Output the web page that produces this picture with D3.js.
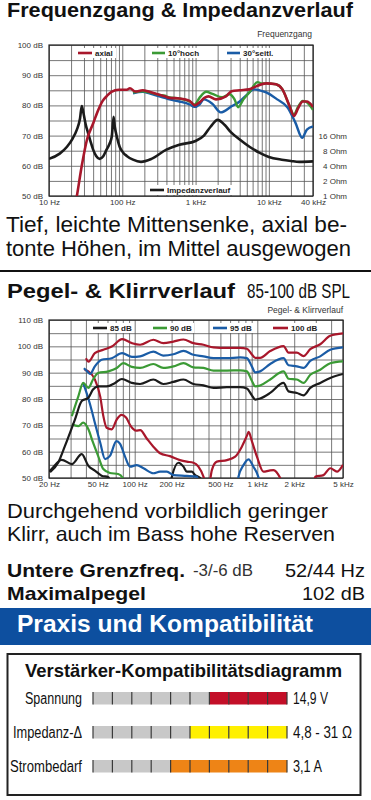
<!DOCTYPE html>
<html>
<head>
<meta charset="utf-8">
<script src="https://cdn.jsdelivr.net/npm/d3@7"></script>
<style>
body { margin: 0; background: #fff; }
svg { display: block; font-family: "Liberation Sans", Arial, sans-serif; }
.grid line { stroke: #555; stroke-width: 0.8; }
.grid .domain { display: none; }
.tick-lbl text { font-size: 8px; fill: #333; }
.tick-lbl .domain { display: none; }
</style>
</head>
<body>
<div id="chart"></div>
<script>
// ---- Frequenzgang (Hz / dB) ----
var fgAxialHz = [22, 24, 28, 33, 40, 47, 54, 61, 71, 90, 115, 127, 150, 190, 235, 320, 380, 440, 600, 830, 970, 1130, 1320, 1500, 1900, 2600, 3100, 4000, 5400, 6700, 9200, 12500, 15300, 19000, 22000, 25000, 29000, 33000, 40000];
var fgAxialDb = [45, 50, 60, 68.7, 74, 78.5, 81.5, 83, 84.5, 85.2, 85.2, 85.7, 84.6, 85, 84.5, 83.5, 83, 82.5, 82.3, 81.5, 80, 81, 82.5, 83, 82, 83, 84.7, 85, 85.3, 86.3, 87.3, 87, 85.3, 80, 76.5, 79, 81.3, 81.3, 79.5];
var fg10Hz = [140, 190, 235, 320, 380, 440, 600, 830, 970, 1130, 1400, 1700, 2300, 2900, 3400, 3800, 4500, 5400, 7000, 8000, 9200, 12500, 15300, 19000, 22000, 25000, 29000, 33000, 40000];
var fg10Db = [84.3, 84.7, 84.3, 83.5, 83.2, 82.6, 82.3, 81.3, 80.3, 82.5, 84.5, 83.8, 82.7, 83.7, 82, 79.4, 82, 84.3, 87.7, 87.3, 87.3, 87, 85.3, 80, 77, 79.5, 81.5, 81, 78.5];
var fg30Hz = [140, 190, 235, 320, 380, 440, 600, 830, 970, 1130, 1300, 1700, 2200, 3100, 4000, 5000, 6300, 7500, 9200, 13000, 18000, 23000, 28500, 33000, 40000];
var fg30Db = [84, 84.5, 84, 83, 82.5, 82, 81.3, 80.3, 79.5, 80.3, 82, 80.5, 77.7, 79.7, 81.3, 83.5, 85.3, 85, 84.3, 82, 79.3, 74.3, 69.3, 72, 73];
var impHz = [10, 14, 17.6, 21, 24, 26.5, 28, 29.5, 32, 34, 37, 40, 44, 49, 55, 61, 67, 72, 76, 79, 84, 92, 103, 115, 140, 180, 250, 400, 600, 1000, 1300, 1600, 2000, 2500, 3000, 4000, 5500, 7400, 10000, 15000, 20000, 26000, 40000];
var impOhm = [5.5, 7, 9.6, 14, 21, 35, 62, 45, 25, 18.4, 12, 8.4, 6.3, 5.5, 6.2, 8.4, 11, 15.5, 38, 24, 15.5, 9.6, 7.3, 6.3, 5.3, 4.8, 5.5, 8.4, 10.5, 12.5, 16, 24, 33, 26, 19, 13.4, 9.5, 7.3, 6, 5.3, 5, 4.8, 4.9];
var fgYTicks = [100, 90, 80, 70, 60, 50];
var fgXTicks = [10, 100, 1000, 10000, 40000];
var fgXLabels = ["10 Hz", "100 Hz", "1 kHz", "10 kHz", "40 kHz"];
var ohmTicks = [16, 8, 4, 2, 1];

// ---- Pegel- & Klirrverlauf (Grundton + Klirr) ----
var k85Hz = [20.4, 23.8, 27, 32.6, 37, 41.9, 45.7, 50.3, 59, 69.2, 78.6, 94.6, 110.7, 142, 171, 207, 250, 301, 364, 439, 565, 724, 822, 900, 962, 1054, 1274, 1637, 1797, 2103, 2382, 2705, 3260, 3936, 5000];
var k85Db = [52.2, 55.9, 62.2, 72.3, 79.2, 80.5, 83.6, 84.8, 84.8, 86.1, 87.6, 86.1, 85.7, 87.4, 85.7, 86.5, 87.4, 85.7, 85.2, 84.2, 84.5, 84.5, 84.0, 81.5, 79.8, 80.2, 82.3, 86.1, 82.9, 82.3, 81.4, 84.2, 86.1, 88.0, 89.5];
var k90Hz = [30.7, 34.7, 38, 41.9, 45.7, 50.3, 61, 71.5, 80.8, 94.6, 110.7, 142, 171, 207, 250, 301, 364, 439, 565, 724, 822, 900, 962, 1054, 1274, 1637, 1797, 2103, 2382, 2705, 3260, 3936, 5000];
var k90Db = [73.5, 81, 86.1, 84.2, 87.4, 89.9, 90.5, 91.8, 93.6, 92.2, 91.8, 93.3, 91.8, 92.4, 93.6, 92.0, 91.8, 90.8, 90.8, 90.9, 90.5, 87, 84.8, 85.1, 87.4, 90.5, 87.7, 87.4, 86.1, 89.2, 91.1, 93.6, 94.3];
var k95Hz = [38.5, 41, 43.3, 47.3, 53.7, 65, 79, 95, 110.7, 142, 171, 207, 250, 301, 364, 439, 565, 724, 822, 900, 962, 1054, 1274, 1637, 1797, 2103, 2382, 2705, 3260, 3936, 5000];
var k95Db = [91.7, 90.5, 89.5, 92.4, 94.9, 95.5, 97.4, 96, 96.2, 98.0, 96.5, 97.0, 98.3, 96.8, 96.2, 95.5, 95.5, 95.8, 95.5, 92.5, 90.1, 90.5, 93.3, 95.5, 92.8, 92.4, 91.8, 94.5, 96.2, 98.7, 99.6];
var k100Hz = [40, 42, 47.3, 55.5, 65, 79, 95, 110.7, 142, 171, 207, 250, 301, 364, 439, 565, 724, 822, 900, 962, 1054, 1274, 1637, 1797, 2103, 2382, 2705, 3260, 3936, 5000];
var k100Db = [95.5, 94.2, 97.4, 98.7, 99.9, 102.7, 101.2, 100.6, 102.5, 101.2, 101.8, 102.6, 101.2, 100.6, 99.6, 99.4, 99.4, 99.1, 97, 95.6, 95.6, 98.2, 100.1, 97.6, 97.6, 96.3, 98.9, 100.8, 104, 104.9];
var d85Hz = [20, 21, 25.4, 30.7, 37, 41.9, 47.3, 53.7, 61, 68, 190, 201, 227, 250, 266, 292, 311, 342, 360];
var d85Db = [52.5, 53.4, 56.9, 55.3, 59.1, 54.6, 52.8, 50.9, 50.3, 45, 45, 50.5, 55.8, 54.3, 52.4, 52.4, 51.1, 50, 45];
var d90Hz = [30.7, 34.7, 38, 41.9, 45.7, 50.3, 55.5, 62.8, 73.4, 80, 85];
var d90Db = [70.4, 69.7, 71, 68.5, 63.5, 58.4, 53.4, 51.9, 51.5, 50, 45];
var d95Hz = [38, 42, 45, 47.3, 52.3, 57.3, 62.8, 71, 76, 83.4, 91.6, 104, 118, 142, 161, 183, 207, 266, 321, 350, 690, 702, 771, 848, 930, 1022, 1080];
var d95Db = [86, 80, 75, 71, 63.5, 57.2, 58.4, 64, 63, 58.1, 54.3, 54.9, 53.7, 51.8, 52.4, 52.4, 51.1, 50.8, 50.5, 45, 45, 50.5, 54.9, 57.1, 54.3, 50.3, 45];
var d100Hz = [39, 41.9, 47.3, 52.3, 55.5, 59, 65, 71.5, 78, 85, 92, 103, 111, 125, 142, 161, 194, 234, 266, 301, 331, 364, 395, 426, 468, 565, 660, 748, 822, 850, 903, 993, 1122, 1250, 1355, 1538, 1700, 2800, 2966, 3468, 3936, 4467, 5000];
var d100Db = [91, 90.5, 87.4, 81, 73.5, 69.1, 68.5, 72.3, 74, 73, 70, 68, 68.2, 65.1, 61.9, 59.4, 58.3, 56.8, 56.2, 55.8, 54.3, 50.5, 45, 53, 56.2, 56.8, 58.1, 61.9, 66, 67.5, 64, 58.1, 52.4, 52.8, 53, 50, 45, 45, 50.5, 51.1, 53.7, 52.4, 55];
var kYTicks = [110, 100, 90, 80, 70, 60, 50];
var kXTicks = [20, 50, 100, 200, 500, 1000, 2000, 5000];
var kXLabels = ["20 Hz", "50 Hz", "100 Hz", "200 Hz", "500 Hz", "1 kHz", "2 kHz", "5 kHz"];

// ---- Verstärker-Kompatibilität ----
var compatLabels = ["Spannung", "Impedanz-Δ", "Strombedarf"];
var compatValues = ["14,9 V", "4,8 - 31 Ω", "3,1 A"];
var compatGray = [6, 5, 4];
var compatSegments = 10;

var red = "#a8172b", green = "#3b9a35", blue = "#1a5ca6", black = "#1b1b1b";

function logGrid(lo, hi) {
    var out = [];
    for (var d = Math.pow(10, Math.floor(Math.log10(lo))); d <= hi; d *= 10) {
        for (var k = 1; k < 10; k++) {
            var f = Math.round(k * d);
            if (f >= lo && f <= hi) out.push(f);
        }
    }
    return out;
}

var svg = d3.select("#chart")
    .append("svg")
    .attr("width", 371)
    .attr("height", 800);

function bigText(x, y, txt, size, weight, len, anchor) {
    var t = svg.append("text")
        .attr("x", x).attr("y", y)
        .style("font-size", size + "px")
        .style("font-weight", weight)
        .attr("fill", "#111")
        .text(txt);
    if (len) t.attr("textLength", len).attr("lengthAdjust", "spacingAndGlyphs");
    if (anchor) t.attr("text-anchor", anchor);
    return t;
}

// ================= Chart 1 =================
bigText(7, 17, "Frequenzgang & Impedanzverlauf", 20, "bold", 346);

var x1 = d3.scaleLog().domain([10, 40000]).range([49, 313]);
var y1 = d3.scaleLinear().domain([50, 100]).range([196, 45]);
var yOhm = d3.scaleLog().base(2).domain([1, 1024]).range([196, 45]);

var g1 = svg.append("g");

g1.append("g").attr("class", "grid")
    .attr("transform", "translate(0,196)")
    .call(d3.axisBottom(x1).tickValues(logGrid(10, 40000)).tickSize(-151).tickFormat(""));
g1.append("g").attr("class", "grid")
    .attr("transform", "translate(49,0)")
    .call(d3.axisLeft(y1).tickValues(d3.range(50, 101, 5)).tickSize(-264).tickFormat(""));

g1.append("rect")
    .attr("x", 49).attr("y", 45).attr("width", 264).attr("height", 151)
    .attr("fill", "none").attr("stroke", "#222").attr("stroke-width", 1.2);

// tick labels
g1.append("g").attr("class", "tick-lbl")
    .attr("transform", "translate(43,0)")
    .call(d3.axisLeft(y1).tickValues(fgYTicks).tickSize(0).tickPadding(0).tickFormat(d => d + " dB"));
g1.append("g").attr("class", "tick-lbl")
    .attr("transform", "translate(347,0)")
    .call(d3.axisLeft(yOhm).tickValues(ohmTicks).tickSize(0).tickPadding(0).tickFormat(d => d + " Ohm"));
g1.append("g").attr("class", "tick-lbl")
    .attr("transform", "translate(0,198)")
    .call(d3.axisBottom(x1).tickValues(fgXTicks).tickSize(0).tickPadding(1).tickFormat((d, i) => fgXLabels[i]));

svg.append("text").attr("x", 312).attr("y", 37).attr("text-anchor", "end")
    .style("font-size", "8.5px").attr("fill", "#333").text("Frequenzgang");

var clip1 = svg.append("clipPath").attr("id", "clip1");
clip1.append("rect").attr("x", 49).attr("y", 45).attr("width", 264).attr("height", 151);

var line1 = d3.line().x(d => x1(d[0])).y(d => y1(d[1])).curve(d3.curveMonotoneX);
var lineOhm = d3.line().x(d => x1(d[0])).y(d => yOhm(d[1])).curve(d3.curveMonotoneX);

var curves1 = g1.append("g").attr("clip-path", "url(#clip1)");
curves1.append("path").datum(d3.zip(impHz, impOhm)).attr("d", lineOhm)
    .attr("fill", "none").attr("stroke", black).attr("stroke-width", 2.6);
curves1.append("path").datum(d3.zip(fg30Hz, fg30Db)).attr("d", line1)
    .attr("fill", "none").attr("stroke", blue).attr("stroke-width", 2.4);
curves1.append("path").datum(d3.zip(fg10Hz, fg10Db)).attr("d", line1)
    .attr("fill", "none").attr("stroke", green).attr("stroke-width", 2.4);
curves1.append("path").datum(d3.zip(fgAxialHz, fgAxialDb)).attr("d", line1)
    .attr("fill", "none").attr("stroke", red).attr("stroke-width", 2.6);

function legendItem(g, x, y, w, color, label, textW) {
    g.append("rect").attr("x", x - 2).attr("y", y - 5).attr("width", w + textW + 7).attr("height", 10).attr("fill", "#fff");
    g.append("line").attr("x1", x).attr("x2", x + w).attr("y1", y).attr("y2", y)
        .attr("stroke", color).attr("stroke-width", 2.6);
    g.append("text").attr("x", x + w + 3).attr("y", y + 3)
        .style("font-size", "8px").style("font-weight", "bold").attr("fill", "#222").text(label);
}
legendItem(g1, 78, 53, 14, red, "axial", 19);
legendItem(g1, 152, 53, 13, green, "10°hoch", 32);
legendItem(g1, 227, 53, 13, blue, "30°seitl.", 32);
legendItem(g1, 150, 190, 14, black, "Impedanzverlauf", 66);

// ================= Text block 1 =================
bigText(6, 232, "Tief, leichte Mittensenke, axial be-", 22, "normal", 341);
bigText(6, 256, "tonte Höhen, im Mittel ausgewogen", 22, "normal", 345);

svg.append("line").attr("x1", 0).attr("x2", 371).attr("y1", 271).attr("y2", 271)
    .attr("stroke", "#111").attr("stroke-width", 2);

bigText(7, 298, "Pegel- & Klirrverlauf", 20, "bold", 228);
// condensed subtitle: scaled horizontally instead of squeezed by textLength
svg.append("text")
    .attr("transform", "translate(247,298) scale(0.78,1)")
    .style("font-size", "19.5px")
    .attr("fill", "#111")
    .text("85-100 dB SPL");

// ================= Chart 2 =================
var x2 = d3.scaleLog().domain([20, 5000]).range([49, 343]);
var y2 = d3.scaleLinear().domain([50, 110]).range([478, 320]);

var g2 = svg.append("g");
g2.append("g").attr("class", "grid")
    .attr("transform", "translate(0,478)")
    .call(d3.axisBottom(x2).tickValues(logGrid(20, 5000)).tickSize(-158).tickFormat(""));
g2.append("g").attr("class", "grid")
    .attr("transform", "translate(49,0)")
    .call(d3.axisLeft(y2).tickValues(d3.range(50, 111, 5)).tickSize(-294).tickFormat(""));
g2.append("rect")
    .attr("x", 49).attr("y", 320).attr("width", 294).attr("height", 158)
    .attr("fill", "none").attr("stroke", "#222").attr("stroke-width", 1.2);

g2.append("g").attr("class", "tick-lbl")
    .attr("transform", "translate(43,0)")
    .call(d3.axisLeft(y2).tickValues(kYTicks).tickSize(0).tickPadding(0).tickFormat(d => d + " dB"));
g2.append("g").attr("class", "tick-lbl")
    .attr("transform", "translate(0,480)")
    .call(d3.axisBottom(x2).tickValues(kXTicks).tickSize(0).tickPadding(1).tickFormat((d, i) => kXLabels[i]));

svg.append("text").attr("x", 343).attr("y", 313).attr("text-anchor", "end")
    .style("font-size", "8.5px").attr("fill", "#333").text("Pegel- & Klirrverlauf");

var clip2 = svg.append("clipPath").attr("id", "clip2");
clip2.append("rect").attr("x", 49).attr("y", 320).attr("width", 294).attr("height", 158);

var line2 = d3.line().x(d => x2(d[0])).y(d => y2(d[1])).curve(d3.curveMonotoneX);
var curves2 = g2.append("g").attr("clip-path", "url(#clip2)");

var series2 = [
    [d85Hz, d85Db, black], [d90Hz, d90Db, green], [d95Hz, d95Db, blue], [d100Hz, d100Db, red],
    [k85Hz, k85Db, black], [k90Hz, k90Db, green], [k95Hz, k95Db, blue], [k100Hz, k100Db, red]
];
curves2.selectAll("path")
    .data(series2)
    .enter()
    .append("path")
    .attr("d", d => line2(d3.zip(d[0], d[1])))
    .attr("fill", "none")
    .attr("stroke", d => d[2])
    .attr("stroke-width", 2.2);

legendItem(g2, 93, 328, 14, black, "85 dB", 22);
legendItem(g2, 153, 328, 14, green, "90 dB", 22);
legendItem(g2, 213, 328, 14, blue, "95 dB", 22);
legendItem(g2, 273, 328, 15, red, "100 dB", 26);

// ================= Text block 2 =================
bigText(7, 518, "Durchgehend vorbildlich geringer", 21, "normal", 321);
bigText(7, 541, "Klirr, auch im Bass hohe Reserven", 21, "normal", 328);

bigText(7, 577, "Untere Grenzfreq.", 19, "bold", 178);
bigText(193, 576, "-3/-6 dB", 17, "normal", 60).attr("fill", "#333");
bigText(365, 577, "52/44 Hz", 19, "normal", 80, "end");
bigText(7, 600, "Maximalpegel", 19, "bold", 139);
bigText(365, 600, "102 dB", 19, "normal", 63, "end");

svg.append("rect").attr("x", 0).attr("y", 608).attr("width", 371).attr("height", 37).attr("fill", "#0d4f9f");
bigText(17, 632, "Praxis und Kompatibilität", 23, "bold", 296).attr("fill", "#fff");

// ================= Kompatibilitätsdiagramm =================
svg.append("rect").attr("x", 7.5).attr("y", 654).attr("width", 353).attr("height", 141)
    .attr("fill", "#fff").attr("stroke", "#222").attr("stroke-width", 2);
bigText(25, 677, "Verstärker-Kompatibilitätsdiagramm", 19, "bold", 317)
    .style("font-family", "'Liberation Sans Narrow', 'Liberation Sans', Arial, sans-serif");

var segX = d3.scaleLinear().domain([0, compatSegments]).range([93, 287]);
var rowY = d3.scalePoint().domain(compatLabels).range([698, 766]);
var segColors = ["#c30f28", "#fff000", "#ee8416"];
var labelW = [57, 69, 72];
var valueW = [35, 59, 29];

compatLabels.forEach(function(lbl, r) {
    var cy = rowY(lbl);
    var row = svg.append("g");
    row.selectAll("rect")
        .data(d3.range(compatSegments))
        .enter()
        .append("rect")
        .attr("x", d => segX(d))
        .attr("y", cy - 6)
        .attr("width", segX(1) - segX(0))
        .attr("height", 12.5)
        .attr("fill", d => d < compatGray[r] ? "#c8c8c8" : segColors[r]);
    row.selectAll("line")
        .data(d3.range(compatSegments + 1))
        .enter()
        .append("line")
        .attr("x1", d => segX(d)).attr("x2", d => segX(d))
        .attr("y1", cy - 6).attr("y2", cy + 6.5)
        .attr("stroke", "#3a3a3a").attr("stroke-width", 1.2);
    bigText(82, cy + 5.5, lbl, 16, "normal", labelW[r], "end")
        .style("font-family", "'Liberation Sans Narrow', 'Liberation Sans', Arial, sans-serif");
    bigText(293, cy + 5.5, compatValues[r], 16, "normal", valueW[r])
        .style("font-family", "'Liberation Sans Narrow', 'Liberation Sans', Arial, sans-serif");
});
</script>
</body>
</html>
